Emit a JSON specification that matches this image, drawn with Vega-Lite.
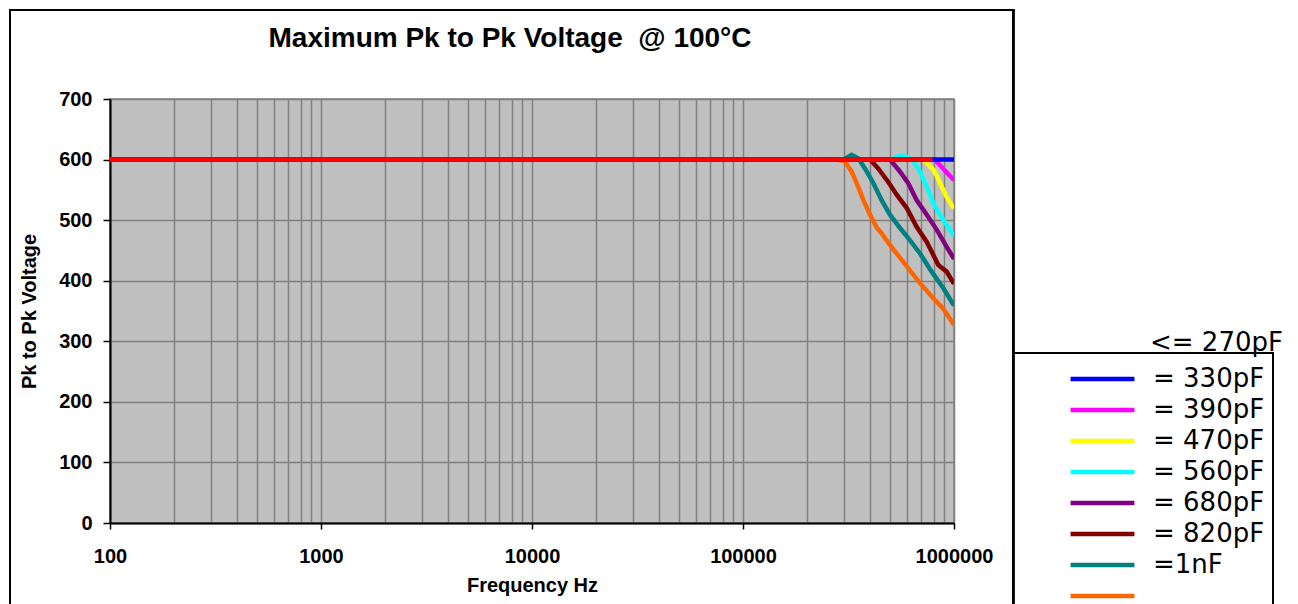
{
  "$schema": "https://vega.github.io/schema/vega-lite/v6.json",
  "width": 844,
  "height": 424,
  "autosize": "none",
  "padding": {"left": 110, "top": 99, "right": 344, "bottom": 81},
  "background": "white",
  "title": {
    "text": "Maximum Pk to Pk Voltage\u00a0 @ 100°C",
    "font": "Liberation Sans",
    "fontSize": 28,
    "fontWeight": "bold",
    "color": "black",
    "anchor": "middle",
    "dx": -22,
    "baseline": "alphabetic",
    "offset": -66
  },
  "datasets": {
    "curves": [
      {"s": "=1.2nF", "f": 100, "v": 600},
      {"s": "=1.2nF", "f": 278000, "v": 600},
      {"s": "=1.2nF", "f": 304000, "v": 597},
      {"s": "=1.2nF", "f": 327000, "v": 580},
      {"s": "=1.2nF", "f": 346000, "v": 561},
      {"s": "=1.2nF", "f": 372000, "v": 533},
      {"s": "=1.2nF", "f": 400000, "v": 509},
      {"s": "=1.2nF", "f": 430000, "v": 488},
      {"s": "=1.2nF", "f": 454000, "v": 478},
      {"s": "=1.2nF", "f": 497000, "v": 459},
      {"s": "=1.2nF", "f": 575000, "v": 431},
      {"s": "=1.2nF", "f": 690000, "v": 396},
      {"s": "=1.2nF", "f": 798000, "v": 371},
      {"s": "=1.2nF", "f": 889000, "v": 354},
      {"s": "=1.2nF", "f": 1000000, "v": 327},

      {"s": "=1nF", "f": 100, "v": 600},
      {"s": "=1nF", "f": 299000, "v": 600},
      {"s": "=1nF", "f": 327000, "v": 608},
      {"s": "=1nF", "f": 352000, "v": 602},
      {"s": "=1nF", "f": 379000, "v": 585},
      {"s": "=1nF", "f": 415000, "v": 561},
      {"s": "=1nF", "f": 454000, "v": 533},
      {"s": "=1nF", "f": 497000, "v": 509},
      {"s": "=1nF", "f": 555000, "v": 487},
      {"s": "=1nF", "f": 618000, "v": 467},
      {"s": "=1nF", "f": 690000, "v": 445},
      {"s": "=1nF", "f": 784000, "v": 415},
      {"s": "=1nF", "f": 889000, "v": 388},
      {"s": "=1nF", "f": 1000000, "v": 359},

      {"s": "= 820pF", "f": 100, "v": 600},
      {"s": "= 820pF", "f": 400000, "v": 600},
      {"s": "= 820pF", "f": 438000, "v": 585},
      {"s": "= 820pF", "f": 488000, "v": 563},
      {"s": "= 820pF", "f": 535000, "v": 542},
      {"s": "= 820pF", "f": 597000, "v": 520},
      {"s": "= 820pF", "f": 665000, "v": 489},
      {"s": "= 820pF", "f": 743000, "v": 464},
      {"s": "= 820pF", "f": 843000, "v": 426},
      {"s": "= 820pF", "f": 923000, "v": 415},
      {"s": "= 820pF", "f": 1000000, "v": 395},

      {"s": "= 680pF", "f": 100, "v": 600},
      {"s": "= 680pF", "f": 497000, "v": 600},
      {"s": "= 680pF", "f": 555000, "v": 580},
      {"s": "= 680pF", "f": 607000, "v": 561},
      {"s": "= 680pF", "f": 665000, "v": 533},
      {"s": "= 680pF", "f": 743000, "v": 509},
      {"s": "= 680pF", "f": 829000, "v": 484},
      {"s": "= 680pF", "f": 923000, "v": 456},
      {"s": "= 680pF", "f": 1000000, "v": 436},

      {"s": "= 560pF", "f": 100, "v": 600},
      {"s": "= 560pF", "f": 510000, "v": 600},
      {"s": "= 560pF", "f": 555000, "v": 607},
      {"s": "= 560pF", "f": 600000, "v": 604},
      {"s": "= 560pF", "f": 641000, "v": 598},
      {"s": "= 560pF", "f": 690000, "v": 580},
      {"s": "= 560pF", "f": 743000, "v": 555},
      {"s": "= 560pF", "f": 798000, "v": 528},
      {"s": "= 560pF", "f": 859000, "v": 509},
      {"s": "= 560pF", "f": 923000, "v": 492},
      {"s": "= 560pF", "f": 1000000, "v": 474},

      {"s": "= 470pF", "f": 100, "v": 600},
      {"s": "= 470pF", "f": 716000, "v": 600},
      {"s": "= 470pF", "f": 800000, "v": 583},
      {"s": "= 470pF", "f": 860000, "v": 561},
      {"s": "= 470pF", "f": 920000, "v": 539},
      {"s": "= 470pF", "f": 1000000, "v": 519},

      {"s": "= 390pF", "f": 100, "v": 600},
      {"s": "= 390pF", "f": 810000, "v": 600},
      {"s": "= 390pF", "f": 1000000, "v": 566},

      {"s": "= 330pF", "f": 100, "v": 600},
      {"s": "= 330pF", "f": 1000000, "v": 600},

      {"s": "<= 270pF", "f": 100, "v": 600},
      {"s": "<= 270pF", "f": 790000, "v": 600}
    ]
  },
  "data": {"name": "curves"},
  "layer": [
    {
      "transform": [{"filter": "datum.s != '<= 270pF'"}],
      "mark": {"type": "line", "clip": true},
      "encoding": {
        "x": {
          "field": "f",
          "type": "quantitative",
          "title": "Frequency Hz",
          "scale": {"type": "log", "domain": [100, 1000000], "nice": false},
          "axis": {
            "values": [100,200,300,400,500,600,700,800,900,1000,2000,3000,4000,5000,6000,7000,8000,9000,10000,20000,30000,40000,50000,60000,70000,80000,90000,100000,200000,300000,400000,500000,600000,700000,800000,900000,1000000],
            "format": "d",
            "labelExpr": "indexof([100,1000,10000,100000,1000000], datum.value) >= 0 ? datum.label : ''",
            "labelFlush": false,
            "labelOverlap": false,
            "tickOpacity": {"condition": {"test": "indexof([100,1000,10000,100000,1000000], datum.value) >= 0", "value": 1}, "value": 0},
            "tickSize": 6,
            "labelPadding": 17,
            "titlePadding": 9
          }
        },
        "y": {
          "field": "v",
          "type": "quantitative",
          "title": "Pk to Pk Voltage",
          "scale": {"domain": [0, 700], "nice": false},
          "axis": {
            "values": [0,100,200,300,400,500,600,700],
            "tickSize": 7,
            "labelPadding": 11,
            "titlePadding": 19
          }
        },
        "color": {
          "field": "s",
          "type": "nominal",
          "scale": {
            "domain": ["<= 270pF", "= 330pF", "= 390pF", "= 470pF", "= 560pF", "= 680pF", "= 820pF", "=1nF", "=1.2nF"],
            "range": ["#FF0000", "#0000FF", "#FF00FF", "#FFFF00", "#00FFFF", "#800080", "#800000", "#008080", "#FF6600"]
          },
          "legend": {
            "orient": "none",
            "legendX": 903,
            "legendY": 254,
            "title": null,
            "values": ["= 330pF", "= 390pF", "= 470pF", "= 560pF", "= 680pF", "= 820pF", "=1nF", "=1.2nF"],
            "labelExpr": "datum.value == '=1.2nF' ? '' : datum.label",
            "symbolType": "M-2.06,0H2.06",
            "symbolSize": 961,
            "symbolOffset": 63.5,
            "labelOffset": 32.5,
            "rowPadding": 0,
            "padding": 8,
            "strokeColor": "black",
            "encode": {"legend": {"update": {"strokeWidth": {"value": 2}}}}
          }
        },
        "strokeWidth": {
          "field": "s",
          "type": "nominal",
          "scale": {
            "domain": ["<= 270pF", "= 330pF", "= 390pF", "= 470pF", "= 560pF", "= 680pF", "= 820pF", "=1nF", "=1.2nF"],
            "range": [4.5, 4.5, 4.5, 4.5, 3, 3, 3, 3, 3]
          },
          "legend": {
            "orient": "none",
            "legendX": 903,
            "legendY": 254,
            "title": null,
            "values": ["= 330pF", "= 390pF", "= 470pF", "= 560pF", "= 680pF", "= 820pF", "=1nF", "=1.2nF"],
            "labelExpr": "datum.value == '=1.2nF' ? '' : datum.label",
            "symbolType": "M-2.06,0H2.06",
            "symbolSize": 961,
            "symbolOffset": 63.5,
            "labelOffset": 32.5,
            "rowPadding": 0,
            "padding": 8,
            "strokeColor": "black",
            "encode": {"legend": {"update": {"strokeWidth": {"value": 2}}}}
          }
        }
      }
    },
    {
      "transform": [{"filter": "datum.s == '<= 270pF'"}],
      "mark": {"type": "line", "clip": true},
      "encoding": {
        "x": {"field": "f", "type": "quantitative"},
        "y": {"field": "v", "type": "quantitative"},
        "color": {"field": "s", "type": "nominal"},
        "strokeWidth": {"field": "s", "type": "nominal"},
        "strokeDash": {
          "datum": "<= 270pF",
          "type": "nominal",
          "scale": {"range": [[1, 0]]},
          "legend": {
            "orient": "none",
            "legendX": 903,
            "legendY": 219.5,
            "title": null,
            "symbolType": "M-2.06,0H2.06",
            "symbolSize": 961,
            "symbolOffset": 63.5,
            "symbolOpacity": 0,
            "labelOffset": 32.5,
            "padding": 8
          }
        }
      }
    },
    {
      "mark": {"type": "rect", "clip": false, "fill": "transparent", "stroke": "black", "strokeWidth": 2},
      "encoding": {
        "x": {"datum": 33.58, "type": "quantitative"},
        "x2": {"datum": 1904300},
        "y": {"datum": 846.9, "type": "quantitative"},
        "y2": {"datum": -170}
      }
    }
  ],
  "config": {
    "font": "Liberation Sans",
    "view": {"fill": "#C0C0C0", "stroke": "#808080", "strokeWidth": 1.5},
    "axis": {
      "domainColor": "black",
      "domainWidth": 2,
      "tickColor": "black",
      "tickWidth": 1.5,
      "gridColor": "#808080",
      "gridWidth": 1.5,
      "gridOpacity": 1,
      "labelFont": "Liberation Sans",
      "labelFontSize": 20,
      "labelFontWeight": "bold",
      "labelColor": "black",
      "titleFont": "Liberation Sans",
      "titleFontSize": 20,
      "titleFontWeight": "bold",
      "titleColor": "black"
    },
    "legend": {
      "labelFont": "DejaVu Sans",
      "labelFontSize": 26,
      "labelColor": "black",
      "labelLimit": 300
    }
  }
}
